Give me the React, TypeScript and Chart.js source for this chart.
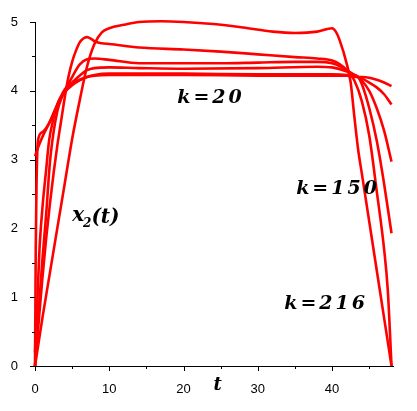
import { useEffect, useRef } from 'react';
import { Chart, registerables } from 'chart.js';
Chart.register(...registerables);

// Curve data (t, x2(t))
const topT = [0, 1, 2, 3, 4, 5, 6, 7, 8, 9, 10, 12, 14, 17, 20, 24, 28, 32, 35, 38, 40, 40.5, 41, 42, 42.5, 43, 43.5, 44, 45, 46, 47, 48];
const topV = [0, 0.7, 1.35, 2.0, 2.65, 3.3, 3.85, 4.35, 4.68, 4.85, 4.91, 4.96, 5.0, 5.01, 5.0, 4.97, 4.92, 4.86, 4.84, 4.86, 4.91, 4.86, 4.74, 4.38, 4.12, 3.62, 3.15, 2.8, 2.1, 1.4, 0.7, 0];

const aT = [0, 0.5, 1, 1.5, 2, 2.5, 3, 3.5, 4, 4.5, 5, 5.5, 6, 6.5, 7, 7.5, 8, 9, 10, 14, 20, 25, 30, 35, 38, 40, 41, 42, 43, 44, 45, 46, 47, 47.5, 48];
const aV = [0, 0.65, 1.28, 1.85, 2.35, 2.8, 3.2, 3.55, 3.9, 4.2, 4.42, 4.58, 4.7, 4.76, 4.78, 4.76, 4.72, 4.69, 4.68, 4.63, 4.6, 4.57, 4.53, 4.49, 4.47, 4.44, 4.39, 4.3, 4.15, 3.85, 3.35, 2.55, 1.7, 1.1, 0];

const bT = [0, 0.5, 1, 1.5, 2, 2.5, 3, 3.5, 4, 5, 6, 7, 8, 10, 14, 20, 25, 30, 35, 38, 40, 41, 42, 43, 43.5, 44, 45, 46, 47, 48];
const bV = [0, 0.8, 1.55, 2.2, 2.95, 3.4, 3.7, 3.88, 4.0, 4.2, 4.38, 4.46, 4.47, 4.45, 4.4, 4.4, 4.4, 4.41, 4.42, 4.42, 4.4, 4.36, 4.3, 4.23, 4.2, 4.1, 3.75, 3.28, 2.65, 1.93];

const cT = [0, 0.3, 0.6, 1, 1.5, 1.9, 2.5, 3, 3.5, 4, 5, 6, 7, 8, 10, 14, 20, 30, 38, 40, 42, 43.5, 44, 45, 46, 47, 48];
const cV = [0.2, 0.9, 1.69, 2.3, 2.85, 3.28, 3.6, 3.8, 3.92, 4.02, 4.12, 4.22, 4.3, 4.33, 4.34, 4.33, 4.32, 4.33, 4.35, 4.34, 4.28, 4.2, 4.15, 4.0, 3.75, 3.42, 2.97];

const dT = [0, 0.05, 0.1, 0.2, 0.4, 1, 2, 3, 4, 5, 6, 7, 8, 10, 20, 30, 40, 42, 43.5, 44, 45, 46, 47, 48];
const dV = [0, 0.8, 1.69, 2.6, 3.28, 3.4, 3.55, 3.78, 3.98, 4.08, 4.15, 4.2, 4.23, 4.25, 4.25, 4.24, 4.24, 4.23, 4.2, 4.18, 4.12, 4.05, 3.95, 3.8];

const eT = [0, 0.5, 1, 2, 3, 4, 5, 6, 7, 8, 10, 20, 30, 40, 42, 43.5, 44, 45, 46, 47, 48];
const eV = [3.05, 3.2, 3.33, 3.55, 3.8, 4.0, 4.1, 4.16, 4.2, 4.22, 4.23, 4.23, 4.22, 4.22, 4.22, 4.2, 4.2, 4.19, 4.16, 4.12, 4.07];

const curves: [number[], number[]][] = [
  [topT, topV], [aT, aV], [bT, bV], [cT, cV], [dT, dV], [eT, eV],
];

const xTickValues = [0, 5, 10, 15, 20, 25, 30, 35, 40, 45];
const yTickValues = [0, 0.5, 1, 1.5, 2, 2.5, 3, 3.5, 4, 4.5, 5];

// annotations: [text, t, value]
const labels: [string, number, number][] = [
  ['k=20', 23.7, 3.9],
  ['k=150', 40.8, 2.57],
  ['k=216', 39.2, 0.9],
];

const annotPlugin = {
  id: 'annot',
  afterDraw(chart: any) {
    const ctx = chart.ctx;
    const xs = chart.scales.x;
    const ys = chart.scales.y;
    ctx.save();
    // tick marks
    ctx.strokeStyle = '#000';
    ctx.lineWidth = 1;
    ctx.beginPath();
    for (const v of xTickValues) {
      const px = Math.round(xs.getPixelForValue(v)) + 0.5;
      const len = v % 10 === 0 ? 5 : 3;
      ctx.moveTo(px, ys.bottom);
      ctx.lineTo(px, ys.bottom + len);
    }
    for (const v of yTickValues) {
      const py = Math.round(ys.getPixelForValue(v)) + 0.5;
      const len = Number.isInteger(v) ? 5 : 3;
      ctx.moveTo(xs.left, py);
      ctx.lineTo(xs.left - len, py);
    }
    ctx.stroke();

    ctx.fillStyle = '#000';
    ctx.textAlign = 'center';
    ctx.textBaseline = 'middle';
    ctx.font = "italic bold 19px 'DejaVu Serif'";
    (ctx as any).letterSpacing = '3px';
    for (const [txt, t, v] of labels) {
      ctx.fillText(txt, xs.getPixelForValue(t), ys.getPixelForValue(v));
    }
    (ctx as any).letterSpacing = '0px';
    // x2(t)
    const bx = xs.getPixelForValue(5.0);
    const by = ys.getPixelForValue(2.15);
    ctx.textAlign = 'left';
    ctx.font = "italic bold 20px 'DejaVu Serif'";
    ctx.fillText('x', bx, by - 2);
    const wx = ctx.measureText('x').width;
    ctx.font = "italic bold 12px 'DejaVu Serif'";
    ctx.fillText('2', bx + wx - 1, by + 6);
    const w2 = ctx.measureText('2').width;
    ctx.font = "italic bold 20px 'DejaVu Serif'";
    ctx.fillText('(t)', bx + wx + w2 - 1, by);
    // axis title t
    ctx.textAlign = 'center';
    ctx.font = "italic bold 18px 'DejaVu Serif'";
    ctx.fillText('t', xs.getPixelForValue(24.6), ys.bottom + 19);
    ctx.restore();
  },
};

export default function App() {
  const ref = useRef<HTMLCanvasElement>(null);
  useEffect(() => {
    if (!ref.current) return;
    const chart = new Chart(ref.current, {
      type: 'line',
      data: {
        datasets: curves.map(([ts, vs]) => ({
          data: ts.map((t, i) => ({ x: t, y: vs[i] })),
          borderColor: '#ff0000',
          borderWidth: 2.6,
          pointRadius: 0,
          fill: false,
          tension: 0.3,
          cubicInterpolationMode: 'monotone' as const,
          clip: false as any,
        })),
      },
      options: {
        animation: false,
        responsive: true,
        maintainAspectRatio: false,
        layout: { padding: { top: 22, right: 24, left: 0, bottom: 0 } },
        plugins: { legend: { display: false }, tooltip: { enabled: false } },
        scales: {
          x: {
            type: 'linear',
            min: 0,
            max: 48.2,
            afterFit: (s: any) => { s.height = 45; },
            grid: { display: false },
            border: { display: true, color: '#000', width: 1 },
            ticks: {
              stepSize: 5,
              autoSkip: false,
              includeBounds: false,
              maxRotation: 0,
              padding: 8,
              color: '#000',
              font: { family: "'Liberation Sans', Arial, sans-serif", size: 13 },
              callback: (v: any) => (Number(v) % 10 === 0 ? String(v) : ''),
            },
          },
          y: {
            type: 'linear',
            min: 0,
            max: 5,
            afterFit: (s: any) => { s.width = 35; },
            grid: { display: false },
            border: { display: true, color: '#000', width: 1 },
            ticks: {
              stepSize: 0.5,
              autoSkip: false,
              includeBounds: false,
              padding: 9,
              color: '#000',
              font: { family: "'Liberation Sans', Arial, sans-serif", size: 13 },
              callback: (v: any) => (Number.isInteger(Number(v)) ? String(v) : ''),
            },
          },
        },
      },
      plugins: [annotPlugin],
    });
    return () => chart.destroy();
  }, []);
  return (
    <div style={{ position: 'fixed', left: 0, top: 0, width: 417, height: 411, background: '#fff' }}>
      <canvas ref={ref} />
    </div>
  );
}
